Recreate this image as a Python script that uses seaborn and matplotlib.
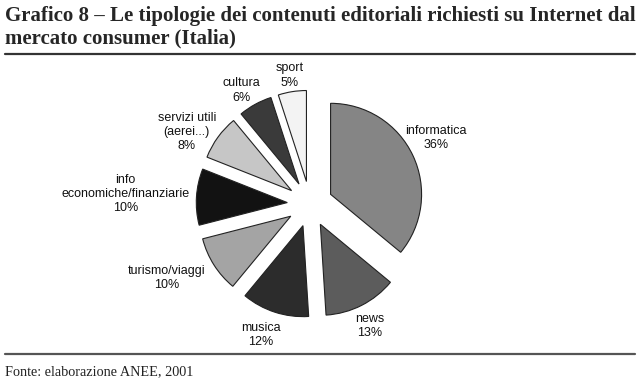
import numpy as np
import matplotlib
matplotlib.use("Agg")
import matplotlib.pyplot as plt
import seaborn as sns

# data
categories = ["informatica", "news", "musica", "turismo/viaggi",
              "info\neconomiche/finanziarie", "servizi utili\n(aerei...)",
              "cultura", "sport"]
shares = [36, 13, 12, 10, 10, 8, 6, 5]
slice_colors = ["#858585", "#5c5c5c", "#2c2c2c", "#a4a4a4",
                "#121212", "#c6c6c6", "#3a3a3a", "#f3f3f3"]

# label placement (distance in radii from slice centre, angle tweak in degrees)
label_dist = [1.31, 1.24, 1.29, 1.52, 1.78, 1.32, 1.21, 1.18]
label_turn = [3, -1, -3, -6, 0.6, 6.7, 3, 0]

sns.set_theme(style="white")
plt.rcParams["font.family"] = ["Liberation Sans", "DejaVu Sans"]

fig = plt.figure(figsize=(6.4, 3.86), dpi=100)
ax = fig.add_axes([0, 0, 1, 1])

radius = 91
wedges, _ = ax.pie(shares, colors=slice_colors, startangle=90, counterclock=False,
                   explode=[0.25 * radius] * len(shares), center=(310, 182), radius=radius,
                   wedgeprops=dict(edgecolor="#222222", linewidth=0.8))

# pie() resets the limits, so set them afterwards (1 unit = 1 pixel)
ax.set_xlim(0, 640)
ax.set_ylim(0, 386)
ax.set_aspect("equal")
ax.axis("off")

for w, name, val, d, t in zip(wedges, categories, shares, label_dist, label_turn):
    ang = np.deg2rad((w.theta1 + w.theta2) / 2 + t)
    cx, cy = w.center
    x = cx + d * w.r * np.cos(ang)
    y = cy + d * w.r * np.sin(ang)
    ax.text(x, y, f"{name}\n{val}%", ha="center", va="center",
            fontsize=9, color="#111111", linespacing=1.25)

# title, rules and source
fig.text(0.008, 0.985, "Grafico 8 – Le tipologie dei contenuti editoriali richiesti su Internet dal\nmercato consumer (Italia)",
         ha="left", va="top", fontsize=15, fontweight="bold",
         family=["Liberation Serif", "DejaVu Serif"], linespacing=1.15)
ax.plot([5, 635], [386 - 54, 386 - 54], color="#333333", lw=1.6)
ax.plot([5, 635], [386 - 354, 386 - 354], color="#555555", lw=1.6)
ax.text(5, 386 - 372, "Fonte: elaborazione ANEE, 2001",
        ha="left", va="center", fontsize=10.3, family=["Liberation Serif", "DejaVu Serif"],
        color="#222222")

fig.savefig("out.png", dpi=100)
